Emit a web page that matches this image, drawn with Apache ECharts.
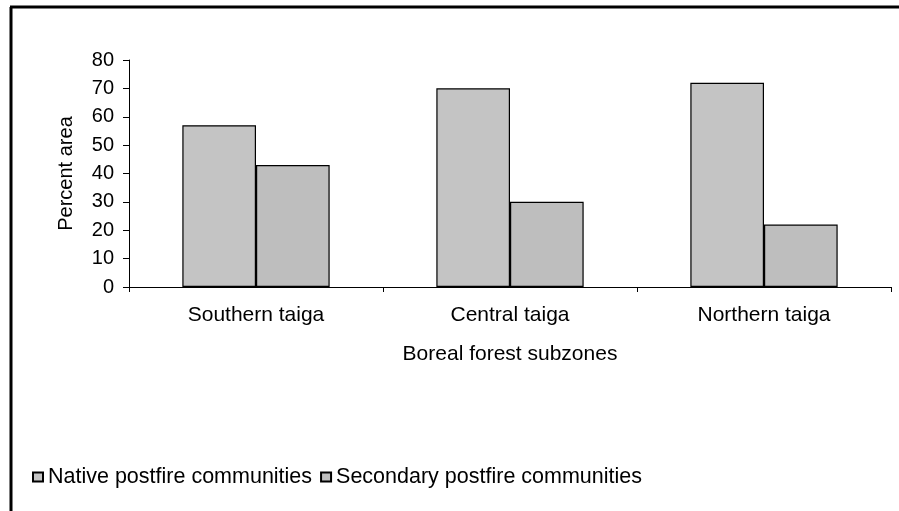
<!DOCTYPE html>
<html>
<head>
<meta charset="utf-8">
<script src="https://cdn.jsdelivr.net/npm/echarts@6/dist/echarts.min.js"></script>
<style>
  html, body { margin: 0; padding: 0; background: #fff; }
  #chart { width: 899px; height: 511px; }
</style>
</head>
<body>
<div id="chart"></div>
<script>
const categories = ['Southern taiga', 'Central taiga', 'Northern taiga']
const nativeValues = [57, 70, 72]
const secondaryValues = [43, 30, 22]
const seriesNames = ['Native postfire communities', 'Secondary postfire communities']

const FONT = 'Liberation Sans, Arial, sans-serif'
const chart = echarts.init(document.getElementById('chart'))

chart.setOption({
  animation: false,
  textStyle: { fontFamily: FONT },
  graphic: [
    // frame: only left and top edges are visible
    { type: 'line', shape: { x1: 11, y1: 7, x2: 11, y2: 511 }, style: { stroke: '#000', lineWidth: 3 } },
    { type: 'line', shape: { x1: 10, y1: 7, x2: 899, y2: 7 }, style: { stroke: '#000', lineWidth: 3 } }
  ],
  legend: {
    left: 27,
    top: 461,
    icon: 'rect',
    itemWidth: 10,
    itemHeight: 9,
    itemGap: 8,
    textStyle: { color: '#000', fontSize: 21.5, fontFamily: FONT, padding: [0, 0, 0, 0] },
    data: seriesNames
  },
  grid: { left: 129, right: 8, top: 60, bottom: 224 },
  xAxis: {
    type: 'category',
    data: categories,
    name: 'Boreal forest subzones',
    nameLocation: 'middle',
    nameGap: 57,
    nameTextStyle: { color: '#000', fontSize: 21, fontFamily: FONT },
    axisLine: { lineStyle: { color: '#000', width: 1 } },
    axisTick: { show: true, length: 5, lineStyle: { color: '#000' } },
    axisLabel: { color: '#000', fontSize: 21, margin: 18, fontFamily: FONT }
  },
  yAxis: {
    type: 'value',
    min: 0,
    max: 80,
    interval: 10,
    name: 'Percent area',
    nameLocation: 'middle',
    nameGap: 53,
    nameTextStyle: { color: '#000', fontSize: 20, fontFamily: FONT },
    axisLine: { show: true, lineStyle: { color: '#000', width: 1 } },
    axisTick: { show: true, length: 6, lineStyle: { color: '#000' } },
    axisLabel: { color: '#000', fontSize: 20, margin: 15, fontFamily: FONT },
    splitLine: { show: false }
  },
  series: [
    {
      name: seriesNames[0],
      type: 'bar',
      data: nativeValues,
      barGap: '0%',
      barCategoryGap: '42%',
      itemStyle: { color: '#c4c4c4', borderColor: '#000', borderWidth: 1.2 }
    },
    {
      name: seriesNames[1],
      type: 'bar',
      data: secondaryValues,
      itemStyle: { color: '#bebebe', borderColor: '#000', borderWidth: 1.2 }
    }
  ]
})
</script>
</body>
</html>
